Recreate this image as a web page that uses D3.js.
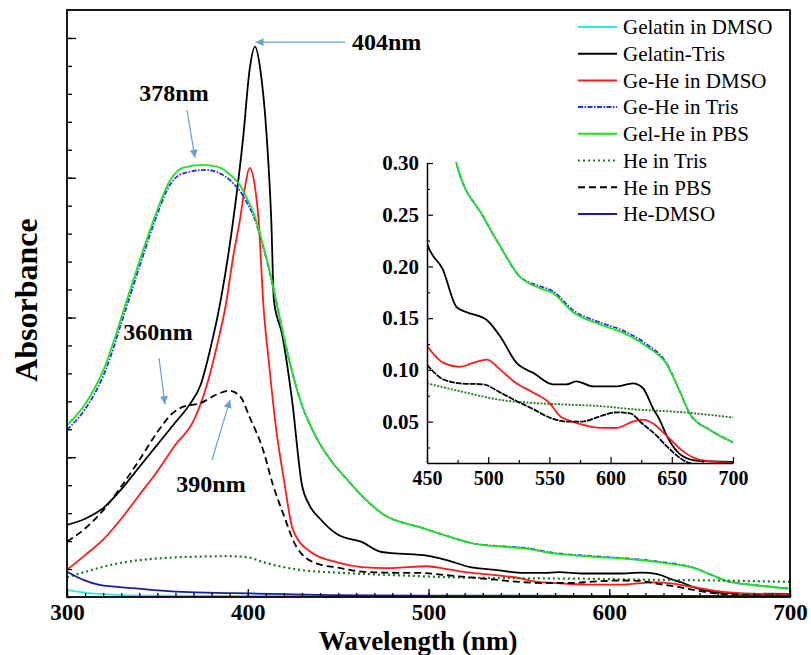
<!DOCTYPE html>
<html>
<head>
<meta charset="utf-8">
<script src="https://cdnjs.cloudflare.com/ajax/libs/d3/7.8.5/d3.min.js"></script>
<style>
  body { margin: 0; background: #fff; }
  svg { display: block; }
  .tick text { font-family: "Liberation Serif", "Times New Roman", serif; font-weight: bold; fill: #000; }
</style>
</head>
<body>
<svg></svg>
<script>
// Width and height of picture
var width = 811;
var height = 655;

// [wavelength nm, absorbance]
var gelatinDMSO = [[300,0.025],[310,0.016],[320,0.010],[330,0.007],[350,0.005],[400,0.004],[500,0.003],[600,0.003],[700,0.003]];
var gelatinTris = [[300,0.258],[310,0.28],[320,0.318],[330,0.385],[340,0.465],[350,0.545],[360,0.625],[368,0.69],[374,0.76],[379,0.88],[385,1.06],[392,1.35],[397.5,1.646],[401,1.885],[404,1.969],[407,1.885],[410.5,1.646],[413,1.35],[414.5,1.06],[419,0.94],[424.5,0.705],[430,0.40],[434,0.33],[440,0.28],[450,0.2225],[463,0.197],[474,0.161],[482,0.156],[499,0.148],[510,0.132],[523,0.107],[537,0.097],[553,0.086],[564,0.086],[572,0.089],[586,0.084],[605,0.084],[618,0.087],[626,0.083],[635,0.062],[640,0.052],[646,0.036],[659,0.0165],[672,0.012],[700,0.011]];
var geHeDMSO = [[300,0.097],[310,0.15],[320,0.205],[330,0.28],[340,0.365],[350,0.45],[360,0.545],[370,0.63],[377,0.75],[383,0.9],[388,1.05],[392,1.22],[395.7,1.35],[398.5,1.467],[401,1.535],[404,1.467],[406,1.35],[408.5,1.06],[412,0.82],[416,0.587],[420,0.42],[425,0.24],[435,0.16],[450,0.123],[463,0.107],[477,0.103],[488,0.107],[499,0.110],[510,0.100],[523,0.087],[537,0.078],[550,0.068],[559,0.055],[564,0.052],[577,0.047],[591,0.044],[605,0.044],[618,0.050],[626,0.052],[635,0.048],[646,0.036],[659,0.0215],[673,0.013],[700,0.010]];
var geHeTris = [[300,0.598],[310,0.672],[320,0.79],[333,1.04],[340,1.18],[348,1.335],[357,1.475],[364,1.515],[377,1.528],[383,1.52],[392,1.48],[396,1.45],[400,1.405],[404,1.35],[408,1.265],[412,1.165],[416,1.05],[421,0.9],[429,0.705],[438,0.57],[447,0.48],[455,0.42],[462,0.37],[474,0.30],[496,0.248],[510,0.219],[526,0.19],[542,0.181],[553,0.176],[569,0.158],[591,0.146],[608,0.139],[629,0.125],[646,0.106],[657,0.078],[665,0.057],[681,0.042],[700,0.030]];
var gelHePBS = [[300,0.615],[310,0.69],[320,0.81],[333,1.06],[340,1.2],[348,1.35],[357,1.49],[364,1.535],[375,1.546],[383,1.54],[392,1.50],[396,1.47],[400,1.42],[404,1.36],[408,1.27],[412,1.17],[416,1.05],[421,0.9],[429,0.705],[438,0.57],[447,0.48],[455,0.42],[462,0.37],[474,0.30],[496,0.248],[510,0.219],[526,0.19],[542,0.179],[553,0.174],[569,0.156],[591,0.144],[608,0.137],[629,0.123],[646,0.105],[657,0.078],[665,0.057],[681,0.042],[700,0.030]];
var heTris = [[300,0.07],[310,0.09],[328,0.12],[355,0.14],[370,0.144],[390,0.146],[400,0.142],[410,0.122],[429,0.097],[450,0.087],[482,0.078],[510,0.071],[537,0.068],[564,0.0665],[591,0.065],[618,0.062],[659,0.059],[700,0.054]];
var hePBS = [[300,0.198],[310,0.245],[320,0.31],[330,0.395],[340,0.49],[350,0.59],[358,0.655],[364,0.68],[374,0.694],[383,0.725],[390,0.738],[396,0.716],[401,0.644],[408.5,0.526],[414,0.40],[419.5,0.30],[427,0.179],[438,0.12],[450,0.105],[463,0.091],[477,0.087],[496,0.086],[510,0.078],[523,0.070],[537,0.062],[550,0.054],[564,0.050],[577,0.050],[591,0.055],[605,0.059],[616,0.058],[626,0.048],[638,0.036],[646,0.026],[659,0.013],[675,0.007],[700,0.005]];
var heDMSO = [[300,0.09],[309,0.061],[318,0.043],[336,0.032],[364,0.018],[392,0.014],[420,0.010],[446,0.007],[500,0.005],[600,0.004],[700,0.004]];

var seriesNames = ["Gelatin in DMSO", "Gelatin-Tris", "Ge-He in DMSO", "Ge-He in Tris", "Gel-He in PBS", "He in Tris", "He in PBS", "He-DMSO"];
var seriesData = [gelatinDMSO, gelatinTris, geHeDMSO, geHeTris, gelHePBS, heTris, hePBS, heDMSO];
var seriesColors = ["#2ee8ec", "#000000", "#ff1a1a", "#2030ff", "#22e022", "#1c7a1c", "#000000", "#1c1c9c"];
var seriesDash = [null, null, null, "5,1.5,1.5,1.5", null, "2,3", "7,4", null];

// main axis tick values
var xMajor = [300, 400, 500, 600, 700];
var xMinor = d3.range(300, 701, 10);
var yMajor = [0.5, 1.0, 1.5, 2.0];
var yMinor = d3.range(0, 2.05, 0.1);

// inset tick values
var ixMajor = [450, 500, 550, 600, 650, 700];
var ixMinor = [475, 525, 575, 625, 675];
var iyMajor = [0.05, 0.10, 0.15, 0.20, 0.25, 0.30];
var iyMinor = [0.025, 0.075, 0.125, 0.175, 0.225, 0.275];

// peak labels: text, arrow tip and tail in data units
var notes = [
  {label: "404nm", tip: [404.3, 1.985], tail: [454, 1.985], tx: 352, ty: 50, anchor: "start"},
  {label: "378nm", tip: [370.8, 1.571], tail: [366.4, 1.742], tx: 174, ty: 101, anchor: "middle"},
  {label: "360nm", tip: [354.2, 0.69], tail: [350.9, 0.855], tx: 158, ty: 340, anchor: "middle"},
  {label: "390nm", tip: [390.2, 0.705], tail: [380.2, 0.49], tx: 211, ty: 492, anchor: "middle"}
];

var x = d3.scaleLinear().domain([300, 700]).range([67, 790]);
var y = d3.scaleLinear().domain([0, 2.1]).range([597, 10]);

var ix = d3.scaleLinear().domain([450, 700]).range([427, 733]);
var iy = d3.scaleLinear().domain([0.01, 0.30]).range([463, 163]);

var svg = d3.select("svg")
    .attr("width", width)
    .attr("height", height)
    .style("font-family", "'Liberation Serif', 'Times New Roman', serif");

var defs = svg.append("defs");
defs.append("clipPath").attr("id", "mainClip")
  .append("rect")
    .attr("x", x.range()[0]).attr("y", y.range()[1])
    .attr("width", x.range()[1] - x.range()[0])
    .attr("height", y.range()[0] - y.range()[1]);
defs.append("clipPath").attr("id", "insetClip")
  .append("rect")
    .attr("x", ix.range()[0]).attr("y", iy.range()[1] - 1)
    .attr("width", ix.range()[1] - ix.range()[0] + 2)
    .attr("height", iy.range()[0] - iy.range()[1] + 1);
defs.append("marker")
    .attr("id", "arrowHead")
    .attr("viewBox", "0 0 10 10")
    .attr("refX", 10).attr("refY", 5)
    .attr("markerWidth", 11).attr("markerHeight", 8)
    .attr("markerUnits", "userSpaceOnUse")
    .attr("orient", "auto")
  .append("path")
    .attr("d", "M0,0L10,5L0,10Z")
    .attr("fill", "#6d9ed6");

// ---- main curves
var line = d3.line()
    .x(function(d) { return x(d[0]); })
    .y(function(d) { return y(d[1]); })
    .curve(d3.curveMonotoneX);

svg.append("g")
    .attr("clip-path", "url(#mainClip)")
  .selectAll("path")
    .data(seriesData)
    .enter().append("path")
    .attr("d", line)
    .attr("fill", "none")
    .attr("stroke", function(d, i) { return seriesColors[i]; })
    .attr("stroke-width", function(d, i) { return i == 5 ? 2.2 : 1.8; })
    .attr("stroke-dasharray", function(d, i) { return seriesDash[i]; });

// ---- main axes, ticks pointing inwards
svg.append("g")
    .attr("transform", "translate(0," + y.range()[0] + ")")
    .call(d3.axisBottom(x).tickValues(xMinor).tickSize(-4).tickFormat(""))
    .call(function(g) { g.select(".domain").remove(); });

svg.append("g")
    .attr("transform", "translate(0," + y.range()[0] + ")")
    .call(d3.axisBottom(x).tickValues(xMajor).tickSize(-8).tickPadding(7).tickFormat(d3.format("d")))
    .call(function(g) { g.select(".domain").remove(); })
    .selectAll("text").style("font-size", "23px");

svg.append("g")
    .attr("transform", "translate(" + x.range()[0] + ",0)")
    .call(d3.axisLeft(y).tickValues(yMinor).tickSize(-5).tickFormat(""))
    .call(function(g) { g.select(".domain").remove(); });

svg.append("g")
    .attr("transform", "translate(" + x.range()[0] + ",0)")
    .call(d3.axisLeft(y).tickValues(yMajor).tickSize(-9).tickFormat(""))
    .call(function(g) { g.select(".domain").remove(); });

svg.selectAll(".tick line").attr("stroke-width", 1.3);

// frame
svg.append("rect")
    .attr("x", x.range()[0]).attr("y", y.range()[1])
    .attr("width", x.range()[1] - x.range()[0])
    .attr("height", y.range()[0] - y.range()[1])
    .attr("fill", "none")
    .attr("stroke", "#000")
    .attr("stroke-width", 1.8);

// axis titles
svg.append("text")
    .attr("x", 418)
    .attr("y", 650)
    .attr("text-anchor", "middle")
    .attr("font-weight", "bold")
    .style("font-size", "27px")
    .text("Wavelength (nm)");

svg.append("text")
    .attr("transform", "translate(37,300) rotate(-90)")
    .attr("text-anchor", "middle")
    .attr("font-weight", "bold")
    .style("font-size", "32px")
    .text("Absorbance");

// ---- inset
var iline = d3.line()
    .x(function(d) { return ix(d[0]); })
    .y(function(d) { return iy(d[1]); })
    .curve(d3.curveMonotoneX);

var inset = svg.append("g").attr("class", "inset");

inset.append("g")
    .attr("clip-path", "url(#insetClip)")
  .selectAll("path")
    .data(seriesData)
    .enter().append("path")
    .attr("d", function(d) { return iline(d.filter(function(p) { return p[0] >= 440; })); })
    .attr("fill", "none")
    .attr("stroke", function(d, i) { return seriesColors[i]; })
    .attr("stroke-width", 1.8)
    .attr("stroke-dasharray", function(d, i) {
        if (i == 6) return "6,1";   // dense dashes look nearly solid in the inset
        if (i == 5) return "2,1.5";
        return seriesDash[i];
    });

inset.append("g")
    .attr("transform", "translate(0," + iy.range()[0] + ")")
    .call(d3.axisBottom(ix).tickValues(ixMinor).tickSize(-3).tickFormat(""))
    .call(function(g) { g.select(".domain").remove(); });

inset.append("g")
    .attr("transform", "translate(0," + iy.range()[0] + ")")
    .call(d3.axisBottom(ix).tickValues(ixMajor).tickSize(-6).tickSizeOuter(0).tickPadding(8).tickFormat(d3.format("d")))
    .selectAll("text").style("font-size", "20px");

inset.append("g")
    .attr("transform", "translate(" + ix.range()[0] + ",0)")
    .call(d3.axisLeft(iy).tickValues(iyMinor).tickSize(-3).tickFormat(""))
    .call(function(g) { g.select(".domain").remove(); });

inset.append("g")
    .attr("transform", "translate(" + ix.range()[0] + ",0)")
    .call(d3.axisLeft(iy).tickValues(iyMajor).tickSize(-6).tickSizeOuter(0).tickPadding(8).tickFormat(d3.format(".2f")))
    .selectAll("text").style("font-size", "21px");

inset.selectAll(".domain").attr("stroke-width", 1.5);
inset.selectAll(".tick line").attr("stroke-width", 1.2);

// ---- legend in the top right corner
var legend = svg.append("g").attr("class", "legend");
var legendRow = 26.7;

var item = legend.selectAll("g")
    .data(seriesNames)
    .enter().append("g")
    .attr("transform", function(d, i) { return "translate(578," + (27 + i * legendRow) + ")"; });

item.append("line")
    .attr("x1", 0).attr("x2", 39)
    .attr("stroke", function(d, i) { return seriesColors[i]; })
    .attr("stroke-width", function(d, i) { return i == 5 ? 2.2 : 2; })
    .attr("stroke-dasharray", function(d, i) { return seriesDash[i]; });

item.append("text")
    .attr("x", 45)
    .attr("dy", "0.35em")
    .style("font-size", "21px")
    .text(function(d) { return d; });

// ---- peak annotations
var note = svg.append("g").attr("class", "notes");

note.selectAll("line")
    .data(notes)
    .enter().append("line")
    .attr("x1", function(d) { return x(d.tail[0]); })
    .attr("y1", function(d) { return y(d.tail[1]); })
    .attr("x2", function(d) { return x(d.tip[0]); })
    .attr("y2", function(d) { return y(d.tip[1]); })
    .attr("stroke", "#6d9ed6")
    .attr("stroke-width", 1.2)
    .attr("marker-end", "url(#arrowHead)");

note.selectAll("text")
    .data(notes)
    .enter().append("text")
    .attr("x", function(d) { return d.tx; })
    .attr("y", function(d) { return d.ty; })
    .attr("text-anchor", function(d) { return d.anchor; })
    .attr("font-weight", "bold")
    .style("font-size", "24px")
    .text(function(d) { return d.label; });
</script>
</body>
</html>
